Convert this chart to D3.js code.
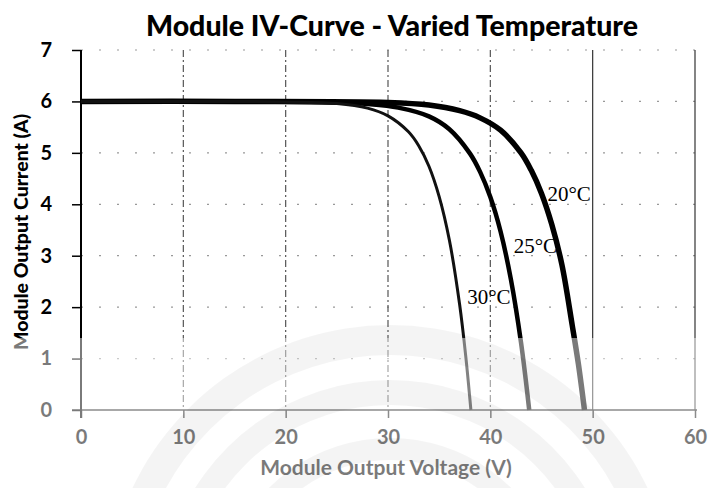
<!DOCTYPE html>
<html>
<head>
<meta charset="utf-8">
<script src="https://cdn.jsdelivr.net/npm/d3@7"></script>
<style>
  body { margin: 0; background: #fff; }
  svg { display: block; }
  .tick text { font-family: Lato, "Open Sans", sans-serif; font-weight: 700; }
</style>
</head>
<body>
<svg id="chart"></svg>
<script>
// series labels
const temps = ["20°C", "25°C", "30°C"];

// [voltage V, current A]
const curve20 = [[0, 6.0], [15, 6.0], [30, 5.98], [34, 5.93], [37, 5.82], [39, 5.68], [41, 5.44],
  [43, 5.0], [44, 4.66], [45, 4.21], [46, 3.61], [47, 2.82], [48, 1.65], [48.6, 0.9], [49.2, 0]];
const curve25 = [[0, 6.0], [15, 6.0], [25, 5.98], [28, 5.95], [31, 5.88], [34, 5.71], [36, 5.46],
  [38, 4.99], [39, 4.63], [40, 4.14], [41, 3.47], [42, 2.55], [43, 1.31], [43.8, 0]];
const curve30 = [[0, 6.0], [12, 6.0], [20, 5.99], [25, 5.96], [28, 5.87], [30, 5.72], [32, 5.41],
  [33, 5.14], [34, 4.74], [35, 4.15], [36, 3.3], [37, 2.05], [37.6, 1.04], [38.1, 0]];

const xTicks = [0, 10, 20, 30, 40, 50, 60];
const yTicks = [0, 1, 2, 3, 4, 5, 6, 7];

const width = 708, height = 488;
const margin = { top: 50, right: 13, bottom: 78, left: 81 };

const svg = d3.select("#chart").attr("width", width).attr("height", height);

const x = d3.scaleLinear().domain([0, 60]).range([margin.left, width - margin.right]);
const y = d3.scaleLinear().domain([0, 7]).range([height - margin.bottom, margin.top]);

// horizontal grid (sparse dots)
svg.append("g")
  .selectAll("line")
  .data(yTicks.filter(d => d > 0))
  .enter().append("line")
    .attr("x1", x(0)).attr("x2", x(60))
    .attr("y1", d => y(d)).attr("y2", d => y(d))
    .attr("stroke", "#999")
    .attr("stroke-width", 1.2)
    .attr("stroke-dasharray", "2,16");

// vertical grid
svg.append("g")
  .selectAll("line")
  .data(xTicks.filter(d => d > 0))
  .enter().append("line")
    .attr("x1", d => x(d)).attr("x2", d => x(d))
    .attr("y1", y(7)).attr("y2", y(0))
    .attr("stroke", d => d >= 50 ? "#333" : "#555")
    .attr("stroke-width", 1.2)
    .attr("stroke-dasharray", d => d >= 50 ? null : "7,3,2,3");

// axes
const xAxis = svg.append("g")
  .attr("transform", `translate(0,${y(0)})`)
  .call(d3.axisBottom(x).tickValues(xTicks).tickFormat(d3.format("d")).tickSize(8).tickPadding(12));
xAxis.select(".domain").attr("stroke", "#222").attr("stroke-width", 1.5)
  .attr("d", `M${x(0) - 9},0H${x(60) + 2}`);
xAxis.selectAll(".tick line").attr("stroke", "#222").attr("stroke-width", 1.5);
xAxis.selectAll(".tick text").attr("font-size", 20).attr("fill", "#000");

const yAxis = svg.append("g")
  .attr("transform", `translate(${x(0)},0)`)
  .call(d3.axisLeft(y).tickValues(yTicks).tickFormat(d3.format("d")).tickSize(9).tickPadding(20));
yAxis.select(".domain").attr("stroke", "#000").attr("stroke-width", 2)
  .attr("d", `M0,${y(7)}V${y(0) + 8}`);
yAxis.selectAll(".tick line").attr("stroke", "#000").attr("stroke-width", 1.5);
yAxis.selectAll(".tick text").attr("font-size", 20).attr("fill", "#000");

// curves
const line = d3.line()
  .x(d => x(d[0]))
  .y(d => y(d[1]))
  .curve(d3.curveCatmullRom.alpha(0.5));

const series = [
  { name: temps[0], values: curve20, width: 5.5, color: "#000", at: 4.1, dx: 4 },
  { name: temps[1], values: curve25, width: 4.5, color: "#000", at: 3.1, dx: 9 },
  { name: temps[2], values: curve30, width: 3, color: "#111", at: 2.1, dx: 8 }
];

svg.append("g")
  .selectAll("path")
  .data(series)
  .enter().append("path")
    .attr("d", d => line(d.values))
    .attr("fill", "none")
    .attr("stroke", d => d.color)
    .attr("stroke-width", d => d.width)
    .attr("stroke-linejoin", "round");

// curve labels placed just right of each curve
function voltageAt(values, current) {
  for (let i = 1; i < values.length; i++) {
    const a = values[i - 1], b = values[i];
    if (a[1] >= current && b[1] <= current) {
      const t = (a[1] - current) / (a[1] - b[1] || 1);
      return a[0] + t * (b[0] - a[0]);
    }
  }
  return values[values.length - 1][0];
}

svg.append("g")
  .selectAll("text")
  .data(series)
  .enter().append("text")
    .attr("x", d => x(voltageAt(d.values, d.at)) + d.dx)
    .attr("y", d => y(d.at) + 2)
    .attr("font-family", "'Liberation Serif', 'DejaVu Serif', serif")
    .attr("font-size", 21)
    .attr("fill", "#000")
    .text(d => d.name);

// title and axis labels
svg.append("text")
  .attr("x", 392)
  .attr("y", 36)
  .attr("text-anchor", "middle")
  .attr("font-family", "Lato, 'Open Sans', sans-serif")
  .attr("font-weight", 900)
  .attr("font-size", 28.5)
  .text("Module IV-Curve - Varied Temperature");

svg.append("text")
  .attr("x", 386)
  .attr("y", 475)
  .attr("text-anchor", "middle")
  .attr("font-family", "Lato, 'Open Sans', sans-serif")
  .attr("font-weight", 700)
  .attr("font-size", 21)
  .text("Module Output Voltage (V)");

svg.append("text")
  .attr("transform", "translate(28,232) rotate(-90)")
  .attr("text-anchor", "middle")
  .attr("font-family", "Lato, 'Open Sans', sans-serif")
  .attr("font-weight", 900)
  .attr("font-size", 19.5)
  .text("Module Output Current (A)");

// faded watermark over the lower part of the scan
svg.append("rect")
  .attr("x", 0).attr("y", 338)
  .attr("width", width).attr("height", height - 338)
  .attr("fill", "#fff").attr("opacity", 0.48);

const wm = svg.append("g").attr("transform", "translate(390,610)");
[[255, 285], [205, 230], [150, 172]].forEach(([r0, r1]) => {
  wm.append("path")
    .attr("d", d3.arc().innerRadius(r0).outerRadius(r1).startAngle(-1.25).endAngle(1.25)())
    .attr("fill", "#000").attr("opacity", 0.045);
});
</script>
</body>
</html>
